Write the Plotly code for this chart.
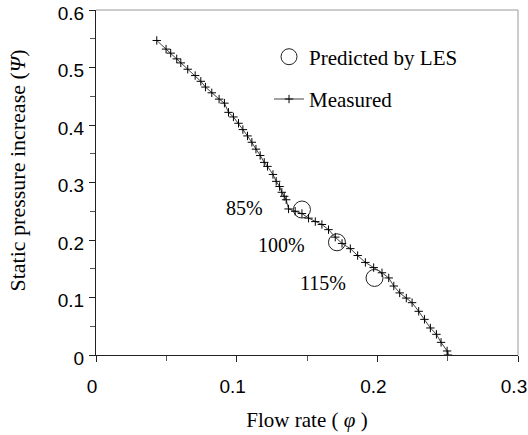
import plotly.graph_objects as go

# Measured curve
phi_meas = [0.0432, 0.0498, 0.0531, 0.0574, 0.0603, 0.0652, 0.0705, 0.0745, 0.0778, 0.0823,
            0.0875, 0.0913, 0.0942, 0.0977, 0.1013, 0.1044, 0.1077, 0.1108, 0.1137, 0.1167,
            0.1196, 0.1219, 0.1258, 0.1281, 0.1305, 0.1321, 0.1338, 0.1352, 0.1369, 0.1416,
            0.1464, 0.1511, 0.1559, 0.1606, 0.1653, 0.1701, 0.1749, 0.1808, 0.1860, 0.1915,
            0.1974, 0.2033, 0.2081, 0.2117, 0.2159, 0.2206, 0.2247, 0.2294, 0.2335, 0.2377,
            0.2420, 0.2453, 0.2496, 0.2502]
psi_meas = [0.547, 0.532, 0.525, 0.515, 0.508, 0.497, 0.486, 0.476, 0.466, 0.456,
            0.445, 0.438, 0.422, 0.414, 0.403, 0.392, 0.381, 0.370, 0.358, 0.347,
            0.335, 0.328, 0.314, 0.302, 0.293, 0.283, 0.276, 0.270, 0.254, 0.250,
            0.246, 0.238, 0.232, 0.227, 0.218, 0.205, 0.194, 0.185, 0.173, 0.161,
            0.152, 0.143, 0.134, 0.120, 0.108, 0.099, 0.091, 0.076, 0.062, 0.047,
            0.036, 0.022, 0.007, 0.000]

# LES predictions
phi_les = [0.1464, 0.1713, 0.1980]
psi_les = [0.253, 0.196, 0.134]
les_labels = ["85%", "100%", "115%"]
label_dx = [-0.0405, -0.0395, -0.0363]
label_dy = [0.002, -0.005, -0.008]

x_ticks = [0, 0.1, 0.2, 0.3]
x_ticktext = ["0", "0.1", "0.2", "0.3"]
y_ticks = [0, 0.1, 0.2, 0.3, 0.4, 0.5, 0.6]
y_ticktext = ["0", "0.1", "0.2", "0.3", "0.4", "0.5", "0.6"]

SERIF = "Liberation Serif, Times New Roman, serif"
SANS = "Liberation Sans, Arial, sans-serif"

fig = go.Figure()
fig.add_trace(go.Scatter(
    x=phi_les, y=psi_les, mode="markers", name="Predicted by LES",
    marker=dict(symbol="circle-open", size=17, color="#222", line=dict(width=1, color="#222")),
    legendgroup="a",
))
fig.add_trace(go.Scatter(
    x=phi_meas, y=psi_meas, mode="lines+markers", name="Measured",
    line=dict(color="#444", width=1),
    marker=dict(symbol="cross-thin", size=6, color="#000", line=dict(width=1, color="#000")),
    legendgroup="b",
))

for x, y, t, dx, dy in zip(phi_les, psi_les, les_labels, label_dx, label_dy):
    fig.add_annotation(x=x + dx, y=y + dy, text=t, showarrow=False,
                       font=dict(family=SERIF, size=20, color="#000"),
                       xanchor="center", yanchor="middle")

# y-axis title as a rotated annotation (positioned like the reference)
fig.add_annotation(xref="paper", yref="paper", x=-0.187, y=0.535,
                   text="Static pressure increase (<i>Ψ</i>)", textangle=-90, showarrow=False,
                   font=dict(family=SERIF, size=22, color="#000"),
                   xanchor="center", yanchor="middle")

fig.update_layout(
    width=528, height=435,
    margin=dict(l=96, r=10, t=10, b=80),
    paper_bgcolor="white", plot_bgcolor="white",
    showlegend=True,
    legend=dict(x=0.41, y=0.923, xanchor="left", yanchor="top",
                font=dict(family=SERIF, size=21, color="#000"),
                bgcolor="rgba(0,0,0,0)", tracegroupgap=12, traceorder="grouped",
                itemwidth=30),
    xaxis=dict(range=[0, 0.3], tickvals=x_ticks, ticktext=x_ticktext,
               showgrid=False, zeroline=False, automargin=False,
               ticklabeloverflow="allow", ticklabelshift=-4,
               showline=True, linecolor="#222", linewidth=1, mirror=False,
               ticks="outside", ticklen=6, tickcolor="#222", ticklabelstandoff=8,
               minor=dict(dtick=0.05, ticks="outside", ticklen=5, tickcolor="#555"),
               tickfont=dict(family=SANS, size=19, color="#000"),
               title=dict(text="Flow rate ( <i>φ</i> )", font=dict(family=SERIF, size=21, color="#000"),
                          standoff=16)),
    yaxis=dict(range=[0, 0.6], tickvals=y_ticks, ticktext=y_ticktext,
               showgrid=False, zeroline=False, automargin=False,
               ticklabeloverflow="allow", ticklabelshift=3,
               showline=True, linecolor="#222", linewidth=1,
               ticks="outside", ticklen=6, tickcolor="#222", ticklabelstandoff=1,
               minor=dict(dtick=0.05, ticks="outside", ticklen=5, tickcolor="#555"),
               tickfont=dict(family=SANS, size=19, color="#000")),
    shapes=[
        dict(type="line", xref="paper", yref="paper", x0=0, x1=1, y0=1, y1=1,
             line=dict(color="#999", width=1)),
        dict(type="line", xref="paper", yref="paper", x0=1, x1=1, y0=0, y1=1,
             line=dict(color="#999", width=1)),
    ],
)

fig.write_html("out.html")
